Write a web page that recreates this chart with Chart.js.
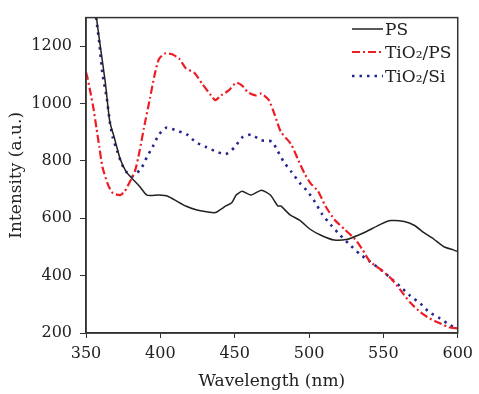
<!DOCTYPE html>
<html>
<head>
<meta charset="utf-8">
<script src="https://cdn.jsdelivr.net/npm/chart.js@4.4.1/dist/chart.umd.min.js"></script>
<style>
  html, body { margin: 0; padding: 0; background: #fff; }
  #wrap { width: 479px; height: 394px; }
</style>
</head>
<body>
<div id="wrap"><canvas id="spectra"></canvas></div>
<script>
// wavelength (nm) / intensity (a.u.)
var psX = [350,357,359,363,366,369,373,377,381,386,391,399,405,411,417,424,431,437,444,448,451,455,461,468,474,479,481,487,494,501,508,517,526,533,539,548,555,564,571,577,584,591,597,600];
var psY = [1570,1301,1223,1073,937,882,807,763,739,712,681,681,677,660,643,630,623,620,643,654,681,694,681,698,681,643,643,613,592,561,541,524,527,541,555,579,592,589,575,551,527,500,490,484];

var tpsX = [350,351,353,355,357,359,361,365,368,373,376,379,383,386,389,393,396,399,403,408,413,417,423,428,434,437,441,446,451,455,459,464,468,473,477,481,488,493,497,501,506,511,517,524,531,536,541,548,555,561,568,575,581,588,594,600];
var tpsY = [1110,1090,1039,984,916,848,780,715,688,681,694,722,766,834,916,1018,1097,1155,1175,1172,1155,1124,1107,1070,1029,1012,1029,1046,1073,1063,1039,1029,1035,1012,960,902,858,800,756,722,695,643,596,561,527,490,449,422,391,353,306,272,251,234,220,216];

var tsiX = [350,357,359,361,364,366,368,371,374,377,381,387,391,395,399,404,411,418,424,431,437,444,450,455,461,468,475,479,483,488,494,499,504,509,515,521,527,534,541,548,555,561,568,575,581,588,595,600];
var tsiY = [1560,1291,1209,1107,1018,937,882,834,790,763,746,773,814,851,892,916,906,892,865,848,834,824,848,882,892,872,868,834,797,763,722,694,657,613,575,541,510,476,449,422,391,364,330,302,272,251,227,214];

var xTicks = [350,400,450,500,550,600];
var yTicks = [200,400,600,800,1000,1200];
var names = ["PS", "TiO\u2082/PS", "TiO\u2082/Si"];

var serif = "'DejaVu Serif', 'Liberation Serif', serif";

function pts(xs, ys){
  var out = [];
  for(var i = 0; i < xs.length; i++) out.push({x: xs[i], y: ys[i]});
  return out;
}

// box round the plot and the legend in the top right corner
var frame = {
  id: 'frame',
  afterDraw: function(chart){
    var c = chart.ctx, a = chart.chartArea;
    c.save();
    c.strokeStyle = '#333';
    c.lineWidth = 1.5;
    c.strokeRect(a.left, a.top, a.right - a.left, a.bottom - a.top);
    var rows = [29, 52, 76];
    chart.data.datasets.forEach(function(ds, i){
      c.beginPath();
      c.strokeStyle = ds.borderColor;
      c.lineWidth = ds.borderWidth;
      c.setLineDash(ds.borderDash || []);
      c.moveTo(352, rows[i]);
      c.lineTo(383, rows[i]);
      c.stroke();
      c.setLineDash([]);
      c.fillStyle = '#222';
      c.font = '17px ' + serif;
      c.textBaseline = 'middle';
      c.fillText(ds.label, 385, rows[i] + 2);
    });
    c.restore();
  }
};

new Chart(document.getElementById("spectra"), {
  type: 'line',
  data: {
    datasets: [{
        label: names[0],
        data: pts(psX, psY),
        borderColor: '#222222',
        borderWidth: 1.5,
        pointRadius: 0,
        tension: 0.2,
        fill: false
      }, {
        label: names[1],
        data: pts(tpsX, tpsY),
        borderColor: '#ee1c25',
        borderWidth: 2.2,
        borderDash: [8, 3, 2, 3],
        pointRadius: 0,
        tension: 0.2,
        fill: false
      }, {
        label: names[2],
        data: pts(tsiX, tsiY),
        borderColor: '#26268f',
        borderWidth: 2.6,
        borderDash: [2.5, 5],
        pointRadius: 0,
        tension: 0.2,
        fill: false
      }
    ]
  },
  plugins: [frame],
  options: {
    responsive: true,
    maintainAspectRatio: false,
    animation: false,
    events: [],
    layout: { padding: { top: 10, right: 18, left: 0, bottom: 2 } },
    plugins: { legend: { display: false }, tooltip: { enabled: false } },
    scales: {
      x: {
        type: 'linear',
        min: 350, max: 600,
        afterBuildTicks: function(s){ s.ticks = xTicks.map(function(v){ return {value: v}; }); },
        afterFit: function(s){ s.height = 59; },
        grid: { drawOnChartArea: false, tickLength: 5, color: '#333' },
        border: { color: '#333', width: 1.5 },
        ticks: { color: '#222', padding: 6, maxRotation: 0, font: { family: serif, size: 16 },
                 callback: function(v){ return String(v); } },
        title: { display: true, text: 'Wavelength (nm)', color: '#222', padding: { top: 0, bottom: 0 }, font: { family: serif, size: 17 } }
      },
      y: {
        min: 200, max: 1300,
        afterBuildTicks: function(s){ s.ticks = yTicks.map(function(v){ return {value: v}; }); },
        afterFit: function(s){ s.width = 86; },
        grid: { drawOnChartArea: false, tickLength: 6, color: '#333' },
        border: { color: '#333', width: 1.5 },
        ticks: { color: '#222', padding: 8, font: { family: serif, size: 16 },
                 callback: function(v){ return String(v); } },
        title: { display: true, text: 'Intensity (a.u.)', color: '#222', padding: { top: 6, bottom: 0 }, font: { family: serif, size: 17 } }
      }
    }
  }
});
</script>
</body>
</html>
